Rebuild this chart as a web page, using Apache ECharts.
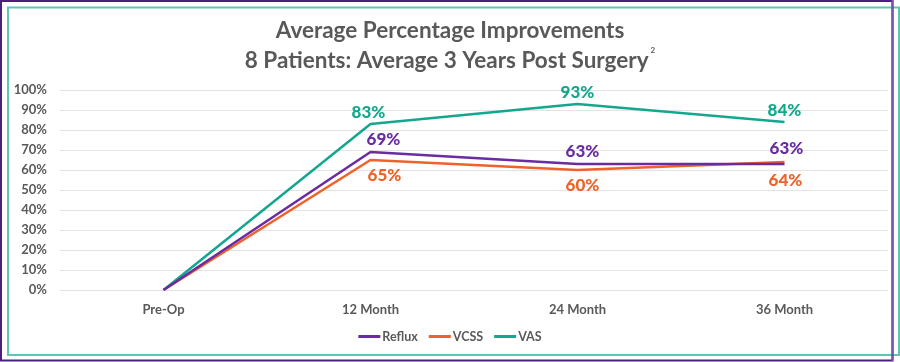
<!DOCTYPE html>
<html>
<head>
<meta charset="utf-8">
<script src="https://cdn.jsdelivr.net/npm/echarts@6/dist/echarts.min.js"></script>
<style>
html,body{margin:0;padding:0;background:#fff;}
#chart{width:900px;height:362px;}
</style>
</head>
<body>
<div id="chart"></div>
<script>
var categories = ['Pre-Op', '12 Month', '24 Month', '36 Month'];
var refluxValues = [0, 69, 63, 63];
var vcssValues = [0, 65, 60, 64];
var vasValues = [0, 83, 93, 84];
var yTickMax = 100;
var yTickStep = 10;

var FONT = 'Lato';
var W = 900;
var GREY = '#595959';
var C_REFLUX = '#6a2ca0';
var C_VCSS = '#ef6229';
var C_VAS = '#13a88e';

function fmt(p) { return p.value === 0 ? '' : p.value + '%'; }

function build(values, offsets) {
  return values.map(function (v, i) {
    var o = { value: v };
    if (offsets && offsets[i]) o.label = { offset: offsets[i] };
    return o;
  });
}

var chart = echarts.init(document.getElementById('chart'));
var labelBase = { show: true, fontFamily: FONT, fontWeight: W, fontSize: 17, formatter: fmt };

function lineSeries(name, values, color, pos, dist, offsets, z) {
  return {
    name: name, type: 'line', data: build(values, offsets),
    symbol: 'circle', symbolSize: 0.1, showSymbol: true,
    lineStyle: { color: color, width: 2.5 }, itemStyle: { color: color },
    label: Object.assign({}, labelBase, { position: pos, distance: dist, color: color }),
    emphasis: { disabled: true }, z: z
  };
}

chart.setOption({
  animation: false,
  title: {
    text: 'Average Percentage Improvements\n8 Patients: Average 3 Years Post Surgery{sup|2}',
    left: 'center',
    top: 11,
    textStyle: {
      fontFamily: FONT, fontWeight: 'bold', fontSize: 22.5, color: GREY, lineHeight: 30,
      rich: { sup: { fontFamily: FONT, fontSize: 8, color: GREY, verticalAlign: 'top', lineHeight: 30, padding: [0, 0, 9, 2] } }
    }
  },
  legend: {
    bottom: 14,
    left: 'center',
    icon: 'rect',
    itemWidth: 22,
    itemHeight: 3,
    itemGap: 11,
    textStyle: { fontFamily: FONT, fontWeight: 'bold', fontSize: 12.5, color: GREY, padding: [0, 0, 0, -3] },
    data: ['Reflux', 'VCSS', 'VAS']
  },
  grid: { left: 60, right: 12, top: 90, bottom: 72 },
  xAxis: {
    type: 'category',
    data: categories,
    boundaryGap: true,
    axisLine: { show: false },
    axisTick: { show: false },
    axisLabel: { fontFamily: FONT, fontWeight: 'bold', fontSize: 13, color: GREY, margin: 13 }
  },
  yAxis: {
    type: 'value',
    min: 0, max: yTickMax, interval: yTickStep,
    axisLine: { show: false },
    axisTick: { show: false },
    axisLabel: { fontFamily: FONT, fontWeight: 'bold', fontSize: 13, color: GREY, margin: 13, formatter: '{value}%' },
    splitLine: { lineStyle: { color: '#e3e3e3', width: 1 } }
  },
  series: [
    lineSeries('Reflux', refluxValues, C_REFLUX, 'top', 4, [null, [13, 0], [5, 0], [2, -3]], 3),
    lineSeries('VCSS', vcssValues, C_VCSS, 'bottom', 7, [null, [14, 0], [5, 0], [1, 3]], 2),
    lineSeries('VAS', vasValues, C_VAS, 'top', 3, [null, [-2, 0], null, null], 2)
  ],
  graphic: [
    { type: 'rect', silent: true, z: 100, shape: { x: 8, y: 7.5, width: 891, height: 347.5 },
      style: { fill: null, stroke: '#5ec7b2', lineWidth: 2 } },
    { type: 'rect', silent: true, z: 101, shape: { x: 1, y: 1, width: 891.5, height: 359.5 },
      style: { fill: null, stroke: '#4a1f7f', lineWidth: 2 } },
    { type: 'line', silent: true, z: 102, shape: { x1: 892.5, y1: 0, x2: 892.5, y2: 361 },
      style: { stroke: '#7b55aa', lineWidth: 2 } }
  ]
});
</script>
</body>
</html>
